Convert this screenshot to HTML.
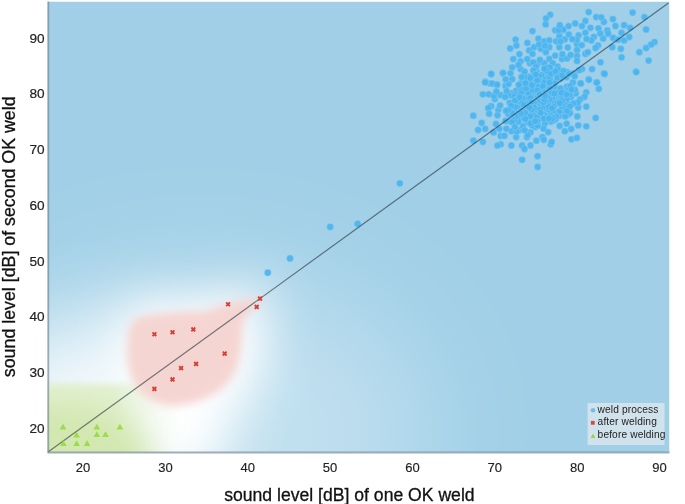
<!DOCTYPE html>
<html><head><meta charset="utf-8"><style>
html,body{margin:0;padding:0;background:#fff;width:685px;height:504px;overflow:hidden}
svg{display:block;filter:blur(0.45px)}
text{font-family:"Liberation Sans",sans-serif}
</style></head><body>
<svg width="685" height="504" viewBox="0 0 685 504">
<defs>
<linearGradient id="gh" gradientUnits="userSpaceOnUse" x1="0" y1="0" x2="190" y2="0"><stop offset="0" stop-color="#e2f0d0"/><stop offset="0.6" stop-color="#e2f0d0"/><stop offset="0.95" stop-color="#eef6e6" stop-opacity="0"/></linearGradient>
<linearGradient id="gg" gradientUnits="userSpaceOnUse" x1="0" y1="383" x2="0" y2="425"><stop offset="0" stop-color="#deeec9"/><stop offset="1" stop-color="#d2e7b0"/></linearGradient>
<clipPath id="pc"><rect x="47.5" y="1.5" width="622.0" height="451.0"/></clipPath>
<filter id="b60" x="-150%" y="-150%" width="400%" height="400%"><feGaussianBlur stdDeviation="60"/></filter>
<filter id="b40" x="-150%" y="-150%" width="400%" height="400%"><feGaussianBlur stdDeviation="40"/></filter>
<filter id="b25" x="-150%" y="-150%" width="400%" height="400%"><feGaussianBlur stdDeviation="25"/></filter>
<filter id="b20" x="-150%" y="-150%" width="400%" height="400%"><feGaussianBlur stdDeviation="18"/></filter>
<filter id="b5" x="-150%" y="-150%" width="400%" height="400%"><feGaussianBlur stdDeviation="4.5"/></filter>
<filter id="b4" x="-150%" y="-150%" width="400%" height="400%"><feGaussianBlur stdDeviation="3"/></filter>
<filter id="b15" x="-150%" y="-150%" width="400%" height="400%"><feGaussianBlur stdDeviation="14"/></filter>
<filter id="b10" x="-150%" y="-150%" width="400%" height="400%"><feGaussianBlur stdDeviation="10"/></filter>
<filter id="b8" x="-150%" y="-150%" width="400%" height="400%"><feGaussianBlur stdDeviation="7"/></filter>
<filter id="b1"><feGaussianBlur stdDeviation="0.5"/></filter>
</defs>
<g clip-path="url(#pc)">
<rect x="47.5" y="1.5" width="622.0" height="451.0" fill="#a0cfe7"/>
<g filter="url(#b60)">
<ellipse cx="200" cy="430" rx="230" ry="160" fill="#ffffff" opacity="0.35"/>
</g>
<g filter="url(#b40)">
<ellipse cx="100" cy="410" rx="125" ry="85" fill="#ffffff" opacity="0.8"/>
</g>
<g filter="url(#b25)">
<path d="M120 336 Q122 305 150 302 Q175 298 211 300 Q225 292 245 290 Q275 286 270 304 Q262 318 262 335 Q268 360 260 380 Q245 398 222 412 L212 470 L150 470 Q118 400 120 336Z" fill="#ffffff"/>
</g>
<g filter="url(#b4)">
<rect x="30" y="384" width="160" height="90" fill="url(#gh)"/>
</g>
<g filter="url(#b15)">
<ellipse cx="55" cy="462" rx="95" ry="60" fill="#d0e6ab" opacity="0.85"/>
</g>
<g filter="url(#b5)">
<path d="M128 335 Q128 318 148 315 Q175 311 205 311 Q222 305 238 301 Q258 296 262 300 Q250 310 243 322 Q242 345 239 362 Q232 385 212 395 Q190 407 170 406 Q148 402 138 390 Q126 372 127 350Z" fill="#f5d5d1"/>
</g>
</g>
<g fill="#4ab4ee" fill-opacity="0.92" stroke="#8acdf2" stroke-width="0.5"><circle cx="550.2" cy="14.8" r="3.4"/><circle cx="546.0" cy="18.5" r="3.4"/><circle cx="545.6" cy="24.4" r="3.4"/><circle cx="532.5" cy="31.1" r="3.4"/><circle cx="515.6" cy="39.6" r="3.4"/><circle cx="516.4" cy="45.5" r="3.4"/><circle cx="510.2" cy="48.5" r="3.4"/><circle cx="527.4" cy="42.9" r="3.4"/><circle cx="538.4" cy="38.7" r="3.4"/><circle cx="544.3" cy="41.3" r="3.4"/><circle cx="549.3" cy="40.4" r="3.4"/><circle cx="555.2" cy="30.3" r="3.4"/><circle cx="562.8" cy="30.3" r="3.4"/><circle cx="559.4" cy="36.2" r="3.4"/><circle cx="529.1" cy="50.5" r="3.4"/><circle cx="534.1" cy="47.2" r="3.4"/><circle cx="540.9" cy="48.8" r="3.4"/><circle cx="549.3" cy="47.2" r="3.4"/><circle cx="556.1" cy="41.3" r="3.4"/><circle cx="559.4" cy="47.2" r="3.4"/><circle cx="532.5" cy="53.9" r="3.4"/><circle cx="545.9" cy="52.2" r="3.4"/><circle cx="555.2" cy="55.6" r="3.4"/><circle cx="562.0" cy="59.0" r="3.4"/><circle cx="549.3" cy="59.0" r="3.4"/><circle cx="529.9" cy="63.2" r="3.4"/><circle cx="537.5" cy="64.0" r="3.4"/><circle cx="544.3" cy="63.2" r="3.4"/><circle cx="552.7" cy="63.2" r="3.4"/><circle cx="512.2" cy="67.4" r="3.4"/><circle cx="520.6" cy="69.1" r="3.4"/><circle cx="502.9" cy="73.3" r="3.4"/><circle cx="491.1" cy="74.1" r="3.4"/><circle cx="485.2" cy="81.7" r="3.4"/><circle cx="490.3" cy="83.4" r="3.4"/><circle cx="497.0" cy="84.3" r="3.4"/><circle cx="510.5" cy="73.3" r="3.4"/><circle cx="512.2" cy="79.2" r="3.4"/><circle cx="505.5" cy="86.0" r="3.4"/><circle cx="473.3" cy="115.7" r="3.4"/><circle cx="481.7" cy="122.9" r="3.4"/><circle cx="478.1" cy="130.0" r="3.4"/><circle cx="485.2" cy="128.8" r="3.4"/><circle cx="473.3" cy="140.7" r="3.4"/><circle cx="482.9" cy="141.9" r="3.4"/><circle cx="493.6" cy="132.4" r="3.4"/><circle cx="500.7" cy="136.0" r="3.4"/><circle cx="500.7" cy="144.3" r="3.4"/><circle cx="511.4" cy="145.5" r="3.4"/><circle cx="511.4" cy="131.2" r="3.4"/><circle cx="516.2" cy="137.1" r="3.4"/><circle cx="522.1" cy="145.5" r="3.4"/><circle cx="524.5" cy="149.0" r="3.4"/><circle cx="522.1" cy="159.8" r="3.4"/><circle cx="537.6" cy="166.9" r="3.4"/><circle cx="537.6" cy="156.2" r="3.4"/><circle cx="530.5" cy="145.5" r="3.4"/><circle cx="536.4" cy="140.7" r="3.4"/><circle cx="542.4" cy="137.1" r="3.4"/><circle cx="550.7" cy="144.3" r="3.4"/><circle cx="526.9" cy="137.1" r="3.4"/><circle cx="491.2" cy="74.0" r="3.4"/><circle cx="485.2" cy="82.4" r="3.4"/><circle cx="492.4" cy="83.6" r="3.4"/><circle cx="497.1" cy="84.8" r="3.4"/><circle cx="503.1" cy="72.9" r="3.4"/><circle cx="482.9" cy="94.3" r="3.4"/><circle cx="488.8" cy="94.3" r="3.4"/><circle cx="494.8" cy="99.0" r="3.4"/><circle cx="491.2" cy="106.2" r="3.4"/><circle cx="498.3" cy="109.8" r="3.4"/><circle cx="496.0" cy="124.0" r="3.4"/><circle cx="588.7" cy="12.1" r="3.4"/><circle cx="596.3" cy="17.1" r="3.4"/><circle cx="603.9" cy="21.9" r="3.4"/><circle cx="632.6" cy="12.6" r="3.4"/><circle cx="644.4" cy="17.1" r="3.4"/><circle cx="646.1" cy="29.5" r="3.4"/><circle cx="585.4" cy="21.0" r="3.4"/><circle cx="575.2" cy="23.5" r="3.4"/><circle cx="582.0" cy="26.1" r="3.4"/><circle cx="590.4" cy="27.8" r="3.4"/><circle cx="568.5" cy="26.1" r="3.4"/><circle cx="563.4" cy="29.5" r="3.4"/><circle cx="558.4" cy="30.3" r="3.4"/><circle cx="607.3" cy="30.3" r="3.4"/><circle cx="608.1" cy="33.7" r="3.4"/><circle cx="624.1" cy="25.2" r="3.4"/><circle cx="630.0" cy="27.8" r="3.4"/><circle cx="621.6" cy="32.8" r="3.4"/><circle cx="613.2" cy="37.9" r="3.4"/><circle cx="618.2" cy="39.6" r="3.4"/><circle cx="624.1" cy="40.4" r="3.4"/><circle cx="629.2" cy="37.0" r="3.4"/><circle cx="593.8" cy="37.0" r="3.4"/><circle cx="591.3" cy="40.4" r="3.4"/><circle cx="585.4" cy="32.8" r="3.4"/><circle cx="578.6" cy="35.4" r="3.4"/><circle cx="598.0" cy="45.5" r="3.4"/><circle cx="595.5" cy="48.0" r="3.4"/><circle cx="612.3" cy="47.2" r="3.4"/><circle cx="620.8" cy="48.8" r="3.4"/><circle cx="654.5" cy="42.1" r="3.4"/><circle cx="651.1" cy="44.6" r="3.4"/><circle cx="646.1" cy="48.0" r="3.4"/><circle cx="639.3" cy="52.2" r="3.4"/><circle cx="621.6" cy="57.3" r="3.4"/><circle cx="648.6" cy="60.6" r="3.4"/><circle cx="636.0" cy="71.6" r="3.4"/><circle cx="600.5" cy="62.3" r="3.4"/><circle cx="585.4" cy="53.9" r="3.4"/><circle cx="587.9" cy="52.2" r="3.4"/><circle cx="592.1" cy="69.1" r="3.4"/><circle cx="603.9" cy="73.3" r="3.4"/><circle cx="582.0" cy="69.1" r="3.4"/><circle cx="588.7" cy="79.2" r="3.4"/><circle cx="596.3" cy="82.6" r="3.4"/><circle cx="580.3" cy="83.4" r="3.4"/><circle cx="577.0" cy="44.0" r="3.4"/><circle cx="577.0" cy="50.0" r="3.4"/><circle cx="577.0" cy="56.0" r="3.4"/><circle cx="577.0" cy="61.0" r="3.4"/><circle cx="636.3" cy="72.1" r="3.4"/><circle cx="604.6" cy="73.9" r="3.4"/><circle cx="588.9" cy="79.8" r="3.4"/><circle cx="580.9" cy="83.4" r="3.4"/><circle cx="597.0" cy="82.5" r="3.4"/><circle cx="598.8" cy="88.8" r="3.4"/><circle cx="572.9" cy="82.5" r="3.4"/><circle cx="586.3" cy="92.3" r="3.4"/><circle cx="584.5" cy="96.8" r="3.4"/><circle cx="580.0" cy="99.5" r="3.4"/><circle cx="586.3" cy="106.6" r="3.4"/><circle cx="578.2" cy="107.5" r="3.4"/><circle cx="577.3" cy="116.4" r="3.4"/><circle cx="595.7" cy="117.9" r="3.4"/><circle cx="578.2" cy="125.4" r="3.4"/><circle cx="586.3" cy="126.3" r="3.4"/><circle cx="571.1" cy="128.9" r="3.4"/><circle cx="566.6" cy="123.6" r="3.4"/><circle cx="571.4" cy="139.3" r="3.4"/><circle cx="576.8" cy="137.9" r="3.4"/><circle cx="571.1" cy="96.8" r="3.4"/><circle cx="515.9" cy="90.9" r="3.4"/><circle cx="537.3" cy="106.4" r="3.4"/><circle cx="556.2" cy="89.5" r="3.4"/><circle cx="523.7" cy="95.0" r="3.4"/><circle cx="561.6" cy="111.3" r="3.4"/><circle cx="533.0" cy="81.8" r="3.4"/><circle cx="535.2" cy="127.1" r="3.4"/><circle cx="528.2" cy="76.5" r="3.4"/><circle cx="528.1" cy="86.0" r="3.4"/><circle cx="524.8" cy="99.2" r="3.4"/><circle cx="531.2" cy="112.4" r="3.4"/><circle cx="532.7" cy="92.6" r="3.4"/><circle cx="550.4" cy="104.9" r="3.4"/><circle cx="511.0" cy="111.6" r="3.4"/><circle cx="521.7" cy="106.3" r="3.4"/><circle cx="518.5" cy="111.5" r="3.4"/><circle cx="535.2" cy="95.7" r="3.4"/><circle cx="519.1" cy="104.3" r="3.4"/><circle cx="511.3" cy="93.3" r="3.4"/><circle cx="561.2" cy="96.3" r="3.4"/><circle cx="509.5" cy="121.3" r="3.4"/><circle cx="521.4" cy="109.9" r="3.4"/><circle cx="523.9" cy="75.0" r="3.4"/><circle cx="532.5" cy="98.2" r="3.4"/><circle cx="543.9" cy="75.8" r="3.4"/><circle cx="541.1" cy="78.9" r="3.4"/><circle cx="526.7" cy="92.2" r="3.4"/><circle cx="564.3" cy="91.9" r="3.4"/><circle cx="557.1" cy="100.9" r="3.4"/><circle cx="528.2" cy="104.0" r="3.4"/><circle cx="555.7" cy="81.4" r="3.4"/><circle cx="540.7" cy="96.9" r="3.4"/><circle cx="544.6" cy="88.9" r="3.4"/><circle cx="537.5" cy="103.3" r="3.4"/><circle cx="533.2" cy="87.7" r="3.4"/><circle cx="510.2" cy="95.2" r="3.4"/><circle cx="550.1" cy="85.5" r="3.4"/><circle cx="514.7" cy="94.8" r="3.4"/><circle cx="536.6" cy="82.5" r="3.4"/><circle cx="523.1" cy="118.4" r="3.4"/><circle cx="517.3" cy="106.6" r="3.4"/><circle cx="547.1" cy="115.4" r="3.4"/><circle cx="520.8" cy="89.0" r="3.4"/><circle cx="508.4" cy="114.1" r="3.4"/><circle cx="534.6" cy="105.5" r="3.4"/><circle cx="527.4" cy="97.7" r="3.4"/><circle cx="537.6" cy="93.0" r="3.4"/><circle cx="553.6" cy="120.6" r="3.4"/><circle cx="533.6" cy="75.7" r="3.4"/><circle cx="567.0" cy="86.6" r="3.4"/><circle cx="530.4" cy="118.7" r="3.4"/><circle cx="521.0" cy="93.2" r="3.4"/><circle cx="546.7" cy="111.2" r="3.4"/><circle cx="557.6" cy="66.7" r="3.4"/><circle cx="514.2" cy="96.9" r="3.4"/><circle cx="541.0" cy="104.3" r="3.4"/><circle cx="530.3" cy="104.7" r="3.4"/><circle cx="551.2" cy="95.6" r="3.4"/><circle cx="554.7" cy="96.2" r="3.4"/><circle cx="559.0" cy="116.0" r="3.4"/><circle cx="548.5" cy="94.6" r="3.4"/><circle cx="542.0" cy="81.3" r="3.4"/><circle cx="538.7" cy="111.6" r="3.4"/><circle cx="559.1" cy="111.4" r="3.4"/><circle cx="527.3" cy="81.5" r="3.4"/><circle cx="575.8" cy="93.4" r="3.4"/><circle cx="532.0" cy="125.4" r="3.4"/><circle cx="525.0" cy="77.2" r="3.4"/><circle cx="556.4" cy="74.4" r="3.4"/><circle cx="549.3" cy="109.7" r="3.4"/><circle cx="522.5" cy="98.3" r="3.4"/><circle cx="544.8" cy="78.7" r="3.4"/><circle cx="561.8" cy="106.3" r="3.4"/><circle cx="497.5" cy="115.3" r="3.4"/><circle cx="536.9" cy="110.4" r="3.4"/><circle cx="550.9" cy="121.6" r="3.4"/><circle cx="567.1" cy="72.2" r="3.4"/><circle cx="543.8" cy="139.8" r="3.4"/><circle cx="518.8" cy="101.5" r="3.4"/><circle cx="556.6" cy="93.8" r="3.4"/><circle cx="528.4" cy="113.3" r="3.4"/><circle cx="555.7" cy="118.9" r="3.4"/><circle cx="548.6" cy="75.6" r="3.4"/><circle cx="554.1" cy="102.1" r="3.4"/><circle cx="525.9" cy="103.4" r="3.4"/><circle cx="577.8" cy="102.5" r="3.4"/><circle cx="554.3" cy="86.5" r="3.4"/><circle cx="530.2" cy="89.7" r="3.4"/><circle cx="537.5" cy="98.0" r="3.4"/><circle cx="578.9" cy="70.3" r="3.4"/><circle cx="567.2" cy="102.6" r="3.4"/><circle cx="543.8" cy="114.7" r="3.4"/><circle cx="505.5" cy="120.9" r="3.4"/><circle cx="533.3" cy="62.4" r="3.4"/><circle cx="528.1" cy="122.6" r="3.4"/><circle cx="525.9" cy="88.4" r="3.4"/><circle cx="552.4" cy="97.5" r="3.4"/><circle cx="528.8" cy="93.8" r="3.4"/><circle cx="548.1" cy="103.3" r="3.4"/><circle cx="514.1" cy="115.7" r="3.4"/><circle cx="530.2" cy="98.1" r="3.4"/><circle cx="547.8" cy="87.3" r="3.4"/><circle cx="549.7" cy="78.5" r="3.4"/><circle cx="519.8" cy="130.1" r="3.4"/><circle cx="543.5" cy="107.2" r="3.4"/><circle cx="530.5" cy="132.3" r="3.4"/><circle cx="548.3" cy="90.5" r="3.4"/><circle cx="537.9" cy="100.3" r="3.4"/><circle cx="534.1" cy="102.6" r="3.4"/><circle cx="526.0" cy="109.1" r="3.4"/><circle cx="545.0" cy="84.8" r="3.4"/><circle cx="522.8" cy="126.0" r="3.4"/><circle cx="530.6" cy="123.3" r="3.4"/><circle cx="550.1" cy="88.2" r="3.4"/><circle cx="567.9" cy="114.7" r="3.4"/><circle cx="488.3" cy="108.2" r="3.4"/><circle cx="549.4" cy="99.4" r="3.4"/><circle cx="569.0" cy="88.5" r="3.4"/><circle cx="530.1" cy="83.7" r="3.4"/><circle cx="541.5" cy="74.9" r="3.4"/><circle cx="565.1" cy="103.8" r="3.4"/><circle cx="539.0" cy="75.6" r="3.4"/><circle cx="510.9" cy="108.3" r="3.4"/><circle cx="506.6" cy="91.1" r="3.4"/><circle cx="531.4" cy="102.3" r="3.4"/><circle cx="534.2" cy="107.7" r="3.4"/><circle cx="543.2" cy="92.5" r="3.4"/><circle cx="499.3" cy="128.8" r="3.4"/><circle cx="553.4" cy="112.4" r="3.4"/><circle cx="547.0" cy="83.4" r="3.4"/><circle cx="547.2" cy="96.6" r="3.4"/><circle cx="548.8" cy="107.0" r="3.4"/><circle cx="522.1" cy="102.7" r="3.4"/><circle cx="560.7" cy="78.8" r="3.4"/><circle cx="525.3" cy="113.1" r="3.4"/><circle cx="527.7" cy="135.0" r="3.4"/><circle cx="540.0" cy="109.7" r="3.4"/><circle cx="540.0" cy="118.4" r="3.4"/><circle cx="515.2" cy="107.1" r="3.4"/><circle cx="545.8" cy="101.3" r="3.4"/><circle cx="546.7" cy="67.6" r="3.4"/><circle cx="533.5" cy="115.3" r="3.4"/><circle cx="542.1" cy="116.7" r="3.4"/><circle cx="574.8" cy="89.7" r="3.4"/><circle cx="549.2" cy="72.4" r="3.4"/><circle cx="539.6" cy="90.0" r="3.4"/><circle cx="558.2" cy="69.7" r="3.4"/><circle cx="536.7" cy="117.4" r="3.4"/><circle cx="544.7" cy="124.0" r="3.4"/><circle cx="556.4" cy="116.3" r="3.4"/><circle cx="530.3" cy="78.0" r="3.4"/><circle cx="536.5" cy="85.1" r="3.4"/><circle cx="538.7" cy="86.8" r="3.4"/><circle cx="518.2" cy="121.5" r="3.4"/><circle cx="530.1" cy="116.4" r="3.4"/><circle cx="520.6" cy="61.3" r="3.4"/><circle cx="540.8" cy="101.1" r="3.4"/><circle cx="549.9" cy="67.5" r="3.4"/><circle cx="500.5" cy="95.1" r="3.4"/><circle cx="566.3" cy="77.2" r="3.4"/><circle cx="508.6" cy="83.9" r="3.4"/><circle cx="500.1" cy="105.5" r="3.4"/><circle cx="526.4" cy="105.8" r="3.4"/><circle cx="566.8" cy="98.7" r="3.4"/><circle cx="494.0" cy="95.8" r="3.4"/><circle cx="514.4" cy="119.9" r="3.4"/><circle cx="566.0" cy="108.6" r="3.4"/><circle cx="559.5" cy="75.4" r="3.4"/><circle cx="543.1" cy="97.3" r="3.4"/><circle cx="509.7" cy="102.8" r="3.4"/><circle cx="497.4" cy="145.6" r="3.4"/><circle cx="551.4" cy="116.2" r="3.4"/><circle cx="517.8" cy="115.9" r="3.4"/><circle cx="506.4" cy="128.8" r="3.4"/><circle cx="517.2" cy="99.4" r="3.4"/><circle cx="557.5" cy="103.3" r="3.4"/><circle cx="521.2" cy="113.6" r="3.4"/><circle cx="563.3" cy="70.9" r="3.4"/><circle cx="551.9" cy="93.2" r="3.4"/><circle cx="559.7" cy="125.9" r="3.4"/><circle cx="558.6" cy="91.5" r="3.4"/><circle cx="524.6" cy="71.6" r="3.4"/><circle cx="544.2" cy="82.7" r="3.4"/><circle cx="551.7" cy="141.8" r="3.4"/><circle cx="543.5" cy="128.6" r="3.4"/><circle cx="521.1" cy="83.2" r="3.4"/><circle cx="553.6" cy="117.6" r="3.4"/><circle cx="537.8" cy="125.6" r="3.4"/><circle cx="557.3" cy="77.6" r="3.4"/><circle cx="511.3" cy="105.9" r="3.4"/><circle cx="496.4" cy="91.5" r="3.4"/><circle cx="536.5" cy="71.2" r="3.4"/><circle cx="546.6" cy="70.9" r="3.4"/><circle cx="543.5" cy="102.2" r="3.4"/><circle cx="533.0" cy="90.1" r="3.4"/><circle cx="544.3" cy="99.3" r="3.4"/><circle cx="570.5" cy="92.2" r="3.4"/><circle cx="560.6" cy="88.3" r="3.4"/><circle cx="570.0" cy="112.9" r="3.4"/><circle cx="535.9" cy="67.0" r="3.4"/><circle cx="544.9" cy="95.9" r="3.4"/><circle cx="561.3" cy="92.8" r="3.4"/><circle cx="537.2" cy="80.2" r="3.4"/><circle cx="489.2" cy="113.8" r="3.4"/><circle cx="514.9" cy="100.4" r="3.4"/><circle cx="551.7" cy="119.2" r="3.4"/><circle cx="551.0" cy="73.9" r="3.4"/><circle cx="524.8" cy="130.3" r="3.4"/><circle cx="563.0" cy="103.0" r="3.4"/><circle cx="537.4" cy="121.2" r="3.4"/><circle cx="562.0" cy="100.9" r="3.4"/><circle cx="573.6" cy="73.3" r="3.4"/><circle cx="554.4" cy="93.5" r="3.4"/><circle cx="531.6" cy="109.6" r="3.4"/><circle cx="569.7" cy="94.5" r="3.4"/><circle cx="512.6" cy="113.1" r="3.4"/><circle cx="570.4" cy="86.1" r="3.4"/><circle cx="512.1" cy="122.1" r="3.4"/><circle cx="548.2" cy="132.1" r="3.4"/><circle cx="542.8" cy="86.1" r="3.4"/><circle cx="564.8" cy="131.2" r="3.4"/><circle cx="505.1" cy="97.0" r="3.4"/><circle cx="533.3" cy="70.3" r="3.4"/><circle cx="544.1" cy="68.7" r="3.4"/><circle cx="525.4" cy="118.9" r="3.4"/><circle cx="532.1" cy="85.2" r="3.4"/><circle cx="573.3" cy="103.5" r="3.4"/><circle cx="519.6" cy="97.2" r="3.4"/><circle cx="516.8" cy="131.6" r="3.4"/><circle cx="525.4" cy="83.2" r="3.4"/><circle cx="504.5" cy="135.8" r="3.4"/><circle cx="566.6" cy="94.5" r="3.4"/><circle cx="535.8" cy="74.4" r="3.4"/><circle cx="554.6" cy="83.4" r="3.4"/><circle cx="559.8" cy="103.1" r="3.4"/><circle cx="569.2" cy="73.8" r="3.4"/><circle cx="549.6" cy="82.6" r="3.4"/><circle cx="529.4" cy="107.7" r="3.4"/><circle cx="553.8" cy="106.8" r="3.4"/><circle cx="521.5" cy="77.1" r="3.4"/><circle cx="543.9" cy="118.7" r="3.4"/><circle cx="555.3" cy="71.2" r="3.4"/><circle cx="523.8" cy="104.8" r="3.4"/><circle cx="537.4" cy="90.5" r="3.4"/><circle cx="514.9" cy="127.0" r="3.4"/><circle cx="508.5" cy="110.1" r="3.4"/><circle cx="574.7" cy="76.2" r="3.4"/><circle cx="570.0" cy="106.5" r="3.4"/><circle cx="506.0" cy="110.9" r="3.4"/><circle cx="540.7" cy="112.8" r="3.4"/><circle cx="552.0" cy="108.3" r="3.4"/><circle cx="535.1" cy="121.3" r="3.4"/><circle cx="565.1" cy="116.4" r="3.4"/><circle cx="562.1" cy="75.5" r="3.4"/><circle cx="571.6" cy="89.5" r="3.4"/><circle cx="518.7" cy="84.9" r="3.4"/><circle cx="539.5" cy="94.4" r="3.4"/><circle cx="567.2" cy="111.0" r="3.4"/><circle cx="548.9" cy="118.4" r="3.4"/><circle cx="527.2" cy="59.1" r="3.4"/><circle cx="586.5" cy="38.9" r="3.4"/><circle cx="567.0" cy="58.5" r="3.4"/><circle cx="598.4" cy="28.3" r="3.4"/><circle cx="570.6" cy="55.0" r="3.4"/><circle cx="564.8" cy="39.3" r="3.4"/><circle cx="538.9" cy="44.5" r="3.4"/><circle cx="560.5" cy="41.6" r="3.4"/><circle cx="576.8" cy="39.8" r="3.4"/><circle cx="568.8" cy="34.5" r="3.4"/><circle cx="559.8" cy="25.2" r="3.4"/><circle cx="519.4" cy="54.2" r="3.4"/><circle cx="567.8" cy="47.5" r="3.4"/><circle cx="539.9" cy="59.9" r="3.4"/><circle cx="603.2" cy="38.5" r="3.4"/><circle cx="612.9" cy="19.1" r="3.4"/><circle cx="615.5" cy="26.0" r="3.4"/><circle cx="505.7" cy="79.4" r="3.4"/><circle cx="562.4" cy="54.1" r="3.4"/><circle cx="600.3" cy="33.5" r="3.4"/><circle cx="601.3" cy="17.3" r="3.4"/><circle cx="572.3" cy="39.2" r="3.4"/><circle cx="518.4" cy="65.0" r="3.4"/><circle cx="513.3" cy="59.1" r="3.4"/><circle cx="544.9" cy="45.8" r="3.4"/><circle cx="581.8" cy="45.1" r="3.4"/><circle cx="267.8" cy="272.7" r="3.4"/><circle cx="290.0" cy="258.4" r="3.4"/><circle cx="330.2" cy="226.9" r="3.4"/><circle cx="357.6" cy="223.8" r="3.4"/><circle cx="399.8" cy="183.3" r="3.4"/></g>
<line x1="48" y1="452" x2="668.5" y2="3" stroke="#1a2a33" stroke-opacity="0.58" stroke-width="1.2"/>
<g stroke="#d63e36" stroke-width="1.9" fill="none"><path d="M152.5 332.3L156.3 336.1M152.5 336.1L156.3 332.3"/><path d="M170.6 330.3L174.4 334.1M170.6 334.1L174.4 330.3"/><path d="M191.4 327.5L195.2 331.3M191.4 331.3L195.2 327.5"/><path d="M226.2 302.3L230.0 306.1M226.2 306.1L230.0 302.3"/><path d="M258.1 296.7L261.9 300.5M258.1 300.5L261.9 296.7"/><path d="M254.8 305.0L258.6 308.8M254.8 308.8L258.6 305.0"/><path d="M222.8 351.7L226.6 355.5M222.8 355.5L226.6 351.7"/><path d="M194.2 362.0L198.0 365.8M194.2 365.8L198.0 362.0"/><path d="M179.2 366.2L183.0 370.0M179.2 370.0L183.0 366.2"/><path d="M170.6 377.5L174.4 381.3M170.6 381.3L174.4 377.5"/><path d="M152.5 387.0L156.3 390.8M152.5 390.8L156.3 387.0"/></g>
<g fill="#9bdc48"><path d="M63.0 423.8L66.3 429.6L59.7 429.6Z"/><path d="M76.6 431.7L79.9 437.5L73.3 437.5Z"/><path d="M63.4 440.2L66.7 446.0L60.1 446.0Z"/><path d="M76.6 440.2L79.9 446.0L73.3 446.0Z"/><path d="M87.1 440.2L90.4 446.0L83.8 446.0Z"/><path d="M96.9 423.8L100.2 429.6L93.6 429.6Z"/><path d="M96.9 431.3L100.2 437.1L93.6 437.1Z"/><path d="M105.5 431.3L108.8 437.1L102.2 437.1Z"/><path d="M119.9 423.8L123.2 429.6L116.6 429.6Z"/></g>
<path d="M48.3 1.5V452.5H669.5" fill="none" stroke="#6f8594" stroke-opacity="0.65" stroke-width="1.8"/>
<rect x="587.6" y="403" width="77" height="42" fill="#d0e3ec"/>
<circle cx="593" cy="410.3" r="2.3" fill="#74bdea"/>
<rect x="590.9" y="420.9" width="3.8" height="3.8" fill="#d64a44"/>
<path d="M593 433.6L595.4 438L590.6 438Z" fill="#98d44a"/>
<g font-size="10.2" fill="#222" letter-spacing="0.12">
<text x="597.6" y="412.9">weld process</text>
<text x="597.6" y="424.9">after welding</text>
<text x="597.6" y="437.5">before welding</text>
</g>
<g font-size="13" fill="#222" stroke="#222" stroke-width="0.15" text-anchor="middle"><text x="83.1" y="471.6">20</text><text x="165.4" y="471.6">30</text><text x="247.8" y="471.6">40</text><text x="330.1" y="471.6">50</text><text x="412.5" y="471.6">60</text><text x="494.8" y="471.6">70</text><text x="577.2" y="471.6">80</text><text x="659.5" y="471.6">90</text></g>
<g font-size="13.6" fill="#222" stroke="#222" stroke-width="0.2" text-anchor="end"><text x="44.5" y="432.6">20</text><text x="44.5" y="376.9">30</text><text x="44.5" y="321.2">40</text><text x="44.5" y="265.5">50</text><text x="44.5" y="209.7">60</text><text x="44.5" y="154.0">70</text><text x="44.5" y="98.3">80</text><text x="44.5" y="42.6">90</text></g>
<text x="349.4" y="500.8" font-size="17.6" fill="#111" stroke="#111" stroke-width="0.3" text-anchor="middle">sound level [dB] of one OK weld</text>
<text transform="translate(14.5 236.8) rotate(-90)" font-size="17.8" fill="#111" stroke="#111" stroke-width="0.3" text-anchor="middle">sound level [dB] of second OK weld</text>
</svg>
</body></html>
